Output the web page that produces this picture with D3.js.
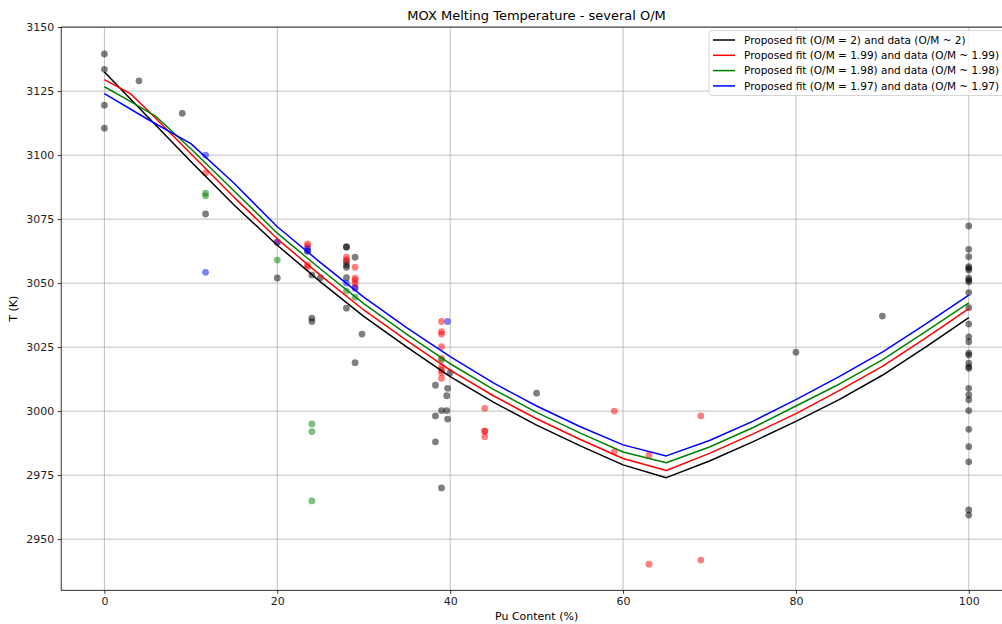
<!DOCTYPE html>
<html>
<head>
<meta charset="utf-8">
<script src="https://cdn.jsdelivr.net/npm/d3@7"></script>
<style>
  html, body { margin: 0; padding: 0; background: #fff; }
  svg { display: block; font-family: "DejaVu Sans", sans-serif; }
</style>
</head>
<body>
<svg id="chart" width="1002" height="624"></svg>
<script>
// ---------- data ----------
const title = "MOX Melting Temperature - several O/M";
const xLabel = "Pu Content (%)";
const yLabel = "T (K)";
const xTicks = [0, 20, 40, 60, 80, 100];
const yTicks = [2950, 2975, 3000, 3025, 3050, 3075, 3100, 3125, 3150];

const seriesNames = [
  "Proposed fit (O/M = 2) and data (O/M ~ 2)",
  "Proposed fit (O/M = 1.99) and data (O/M ~ 1.99)",
  "Proposed fit (O/M = 1.98) and data (O/M ~ 1.98)",
  "Proposed fit (O/M = 1.97) and data (O/M ~ 1.97)"
];
const seriesColors = ["#000000", "#ff0000", "#008000", "#0000ff"];

// fit curves (Pu %, T)
const fitBlack = [[0,3132.5],[5,3115],[10,3097.5],[15,3080.5],[20,3064.8],[25,3050.5],[30,3037],[35,3025],[40,3013.5],[45,3003.5],[50,2994.5],[55,2986.5],[60,2979],[65,2974],[70,2980.5],[75,2988],[80,2996],[85,3004.5],[90,3014],[95,3025],[100,3036.5]];
const fitRed = [[0,3129.5],[3,3124],[5,3117.5],[10,3100.5],[15,3083.5],[20,3067.3],[25,3053],[30,3039.5],[35,3027.5],[40,3016],[45,3006],[50,2997],[55,2989],[60,2981.5],[65,2976.8],[70,2983.5],[75,2991],[80,2999],[85,3008],[90,3017.5],[95,3028.5],[100,3040]];
const fitGreen = [[0,3126.7],[3,3121],[6,3115],[10,3102.5],[15,3086],[20,3069.5],[25,3055.5],[30,3042],[35,3030],[40,3018.5],[45,3008.5],[50,2999.5],[55,2991.5],[60,2984],[65,2979.8],[70,2986],[75,2993.5],[80,3002],[85,3010.5],[90,3020],[95,3031],[100,3042.3]];
const fitBlue = [[0,3124],[5,3114],[10,3104.5],[15,3089],[20,3072],[25,3058],[30,3044.5],[35,3032.5],[40,3021.3],[45,3011],[50,3002],[55,2994],[60,2986.8],[65,2982.5],[70,2988.5],[75,2996],[80,3004.5],[85,3013.5],[90,3023],[95,3034],[100,3045.3]];

// measured data (Pu %, T)
const dataBlack = [[0,3139.5],[0,3133.5],[0,3119.5],[0,3110.5],[4,3129],[9,3116.3],[11.7,3077],[20,3052],[23.5,3062.5],[24,3053.2],[25,3052.1],[24,3036.3],[24,3035],[28,3064.2],[28,3064],[28,3058.4],[28,3057.1],[28,3056.2],[28,3052.1],[28,3040.2],[29,3060.1],[29,3018.9],[29.8,3030.1],[40,3015],[38.3,3010.1],[39.7,3008.9],[39.6,3006],[39,3000.2],[39.6,3000.2],[38.3,2998.1],[39.7,2996.9],[38.3,2988],[39,2970],[50,3007],[80,3023],[90,3037.1],[100,3072.3],[100,3063.2],[100,3060.3],[100,3056.4],[100,3055.8],[100,3055.1],[100,3051.9],[100,3051.2],[100,3050.5],[100,3046.3],[100,3040.4],[100,3034],[100,3029],[100,3027.1],[100,3022.6],[100,3021.9],[100,3018.7],[100,3017.3],[100,3016.7],[100,3008.9],[100,3006.3],[100,3004.4],[100,3000.2],[100,2992.9],[100,2986.1],[100,2980.2],[100,2961.4],[100,2959.4]];
const dataRed = [[11.7,3093],[20,3066],[23.5,3065.3],[23.5,3064.5],[23.5,3057.1],[23.5,3056.2],[28,3060.1],[28,3059],[29,3056.2],[29,3051.9],[29,3051.2],[29,3049.9],[29,3048.4],[39,3035],[39,3031],[39,3030.1],[39,3025.2],[39,3020.6],[39,3017.3],[39,3016],[39,3015],[39,3012.8],[44,3001.1],[44,2992.2],[44,2992.2],[44,2990],[59,3000],[59,2984.1],[63,2982.8],[63,2940.2],[69,2998.1],[69,2941.8]];
const dataGreen = [[11.7,3085.1],[11.7,3084.1],[20,3059],[24,2995],[24,2992],[24,2964.9],[28,3046.9],[29,3044.5],[39,3020]];
const dataBlue = [[11.7,3100],[11.7,3054.2],[20,3066],[23.5,3063.5],[23.5,3062.5],[28,3050],[29,3048],[39.7,3035]];

// ---------- chart ----------
const W = 1002, H = 624;
const svg = d3.select("#chart");
const plot = { left: 61.2, right: 1012, top: 27.1, bottom: 590.3 };

const x = d3.scaleLinear().domain([-5, 105]).range([plot.left, plot.right]);
const y = d3.scaleLinear().domain([2930, 3150]).range([plot.bottom, plot.top]);

svg.append("rect").attr("width", W).attr("height", H).attr("fill", "#fff");

svg.append("defs").append("clipPath").attr("id", "clip")
  .append("rect").attr("x", plot.left).attr("y", plot.top)
  .attr("width", plot.right - plot.left).attr("height", plot.bottom - plot.top);

// grid
const grid = svg.append("g").attr("stroke", "#b0b0b0").attr("stroke-width", 0.8);
grid.selectAll(".gx").data(xTicks).join("line")
  .attr("x1", d => x(d)).attr("x2", d => x(d))
  .attr("y1", plot.top).attr("y2", plot.bottom);
grid.selectAll(".gy").data(yTicks).join("line")
  .attr("x1", plot.left).attr("x2", plot.right)
  .attr("y1", d => y(d)).attr("y2", d => y(d));

// axes
const xAxis = d3.axisBottom(x).tickValues(xTicks).tickSize(3.5).tickPadding(3.5).tickFormat(d3.format("d"));
const yAxis = d3.axisLeft(y).tickValues(yTicks).tickSize(3.5).tickPadding(3.5).tickFormat(d3.format("d"));
const gx = svg.append("g").attr("transform", `translate(0,${plot.bottom})`).call(xAxis);
const gy = svg.append("g").attr("transform", `translate(${plot.left},0)`).call(yAxis);
[gx, gy].forEach(g => {
  g.select(".domain").remove();
  g.selectAll("line").attr("stroke", "#000").attr("stroke-width", 0.8);
  g.selectAll("text").attr("font-size", 11).attr("fill", "#222").attr("font-family", "DejaVu Sans");
});

// scatter
const layer = svg.append("g").attr("clip-path", "url(#clip)");
const allData = [dataBlack, dataRed, dataGreen, dataBlue];
allData.forEach((arr, i) => {
  layer.append("g").selectAll("circle").data(arr).join("circle")
    .attr("cx", d => x(d[0])).attr("cy", d => y(d[1]))
    .attr("r", 3.4).attr("fill", seriesColors[i]).attr("fill-opacity", 0.5);
});

// fit lines
const line = d3.line().x(d => x(d[0])).y(d => y(d[1]));
const fits = [fitBlack, fitRed, fitGreen, fitBlue];
fits.forEach((arr, i) => {
  layer.append("path").datum(arr).attr("d", line)
    .attr("fill", "none").attr("stroke", seriesColors[i]).attr("stroke-width", 1.5)
    .attr("stroke-linejoin", "round");
});

// spines
svg.append("rect").attr("x", plot.left).attr("y", plot.top)
  .attr("width", plot.right - plot.left).attr("height", plot.bottom - plot.top)
  .attr("fill", "none").attr("stroke", "#000").attr("stroke-width", 0.8);

// title & labels
svg.append("text").attr("x", (plot.left + plot.right) / 2).attr("y", 20)
  .attr("text-anchor", "middle").attr("font-size", 13).attr("fill", "#000").text(title);
svg.append("text").attr("x", (plot.left + plot.right) / 2).attr("y", 620)
  .attr("text-anchor", "middle").attr("font-size", 11).attr("fill", "#000").text(xLabel);
svg.append("text").attr("transform", `translate(17,${(plot.top + plot.bottom) / 2}) rotate(-90)`)
  .attr("text-anchor", "middle").attr("font-size", 11).attr("fill", "#000").text(yLabel);

// legend
const lg = svg.append("g");
lg.append("rect").attr("x", 709).attr("y", 30.5).attr("width", 300).attr("height", 65)
  .attr("rx", 3).attr("fill", "#fff").attr("fill-opacity", 0.8)
  .attr("stroke", "#cccccc").attr("stroke-width", 0.8);
seriesNames.forEach((name, i) => {
  const cy = 40 + i * 15.3;
  lg.append("line").attr("x1", 713).attr("x2", 735).attr("y1", cy).attr("y2", cy)
    .attr("stroke", seriesColors[i]).attr("stroke-width", 1.5);
  lg.append("text").attr("x", 744).attr("y", cy + 3.8).attr("font-size", 10.5)
    .attr("fill", "#000").text(name);
});
</script>
</body>
</html>
